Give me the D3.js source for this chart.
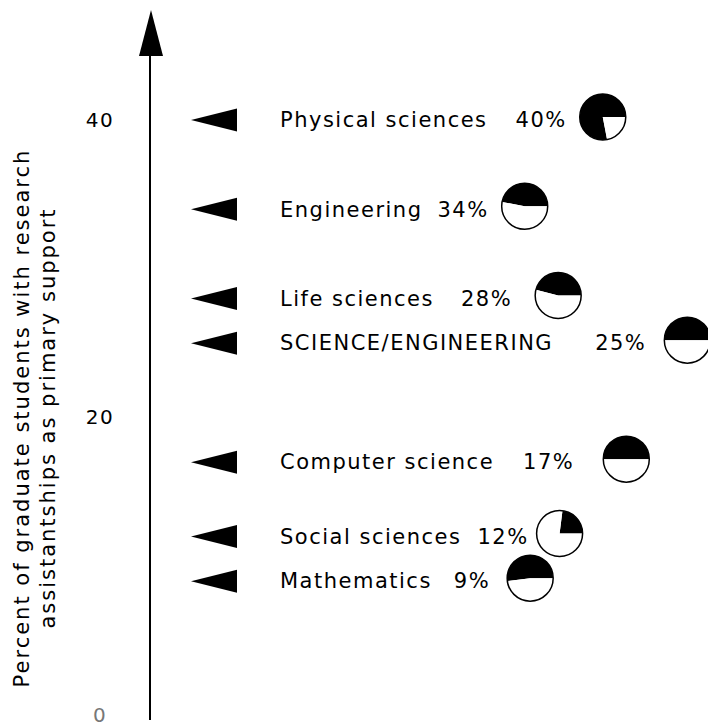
<!DOCTYPE html>
<html>
<head>
<meta charset="utf-8">
<script src="https://cdn.jsdelivr.net/npm/d3@7"></script>
<style>
body { margin: 0; background: #fff; }
svg text { font-family: "DejaVu Sans", sans-serif; font-size: 21px; letter-spacing: 1.5px; fill: #000; }
</style>
</head>
<body>
<script>
// fields, their share of grad students on research assistantships
var fields = ["Physical sciences", "Engineering", "Life sciences", "SCIENCE/ENGINEERING",
              "Computer science", "Social sciences", "Mathematics"];
var percents = [40, 34, 28, 25, 17, 12, 9];
// black part of each small pie (runs counter-clockwise from 3 o'clock)
var blackShare = [0.78, 0.47, 0.46, 0.50, 0.50, 0.23, 0.52];
var tickValues = [0, 20, 40];
var titleLines = ["Percent of graduate students with research", "assistantships as primary support"];

// hand placed spacing of the original (px): name -> percent, percent -> pie
var nameGap = [28, 15, 27, 42, 29, 16, 22];
var pieGap = [13, 13, 23, 18, 29, 8, 17];

var width = 708, height = 727,
    axisX = 150, r = 23;

var svg = d3.select("body").append("svg")
    .attr("width", width)
    .attr("height", height);

var y = d3.scaleLinear()
    .domain([0, 40])
    .range([715, 120]);

// axis line with arrow on top
svg.append("line")
    .attr("x1", axisX).attr("x2", axisX)
    .attr("y1", 50).attr("y2", 720)
    .attr("stroke", "#000")
    .attr("stroke-width", 2);

svg.append("path")
    .attr("d", "M151,10 L139,56 L163,56 Z")
    .attr("fill", "#000");

// tick labels only
var axis = svg.append("g")
    .attr("transform", "translate(" + axisX + ",0)")
    .call(d3.axisLeft(y).tickValues(tickValues).tickSize(0).tickFormat(d3.format("d")));
axis.select(".domain").remove();
axis.selectAll("text")
    .attr("x", -50)
    .attr("text-anchor", "middle")
    .style("font-size", "20px")
    .style("fill", function(d) { return d === 0 ? "#777" : "#000"; });

// rotated y title
titleLines.forEach(function(t, i) {
  svg.append("text")
    .attr("transform", "translate(" + (29 + i * 26) + ",418) rotate(-90)")
    .attr("text-anchor", "middle")
    .style("letter-spacing", "2px")
    .text(t);
});

var pie = d3.pie()
    .sort(null)
    .startAngle(Math.PI / 2)
    .endAngle(Math.PI / 2 - 2 * Math.PI);
var arc = d3.arc().innerRadius(0).outerRadius(r);

var rows = svg.selectAll(".row")
    .data(fields.map(function(f, i) { return {name: f, pct: percents[i], black: blackShare[i], i: i}; }))
    .enter().append("g")
    .attr("class", "row")
    .attr("transform", function(d) { return "translate(0," + y(d.pct) + ")"; });

// pointer triangles
rows.append("path")
    .attr("d", "M191,0 L237,-11.5 L237,11.5 Z")
    .attr("fill", "#000");

rows.each(function(d) {
  var g = d3.select(this);
  var name = g.append("text")
    .attr("x", 280)
    .attr("dy", "0.35em")
    .text(d.name);
  var px = 280 + name.node().getComputedTextLength() + nameGap[d.i];
  var pct = g.append("text")
    .attr("x", px)
    .attr("dy", "0.35em")
    .text(d.pct + "%");
  var cx = px + pct.node().getComputedTextLength() + pieGap[d.i] + r;

  var pg = g.append("g").attr("transform", "translate(" + cx + ",-3)");
  pg.selectAll("path")
    .data(pie([d.black, 1 - d.black]))
    .enter().append("path")
    .attr("d", arc)
    .attr("fill", function(s, j) { return j === 0 ? "#000" : "#fff"; });
  pg.append("circle")
    .attr("r", r)
    .attr("fill", "none")
    .attr("stroke", "#000")
    .attr("stroke-width", 1.5);
});
</script>
</body>
</html>
